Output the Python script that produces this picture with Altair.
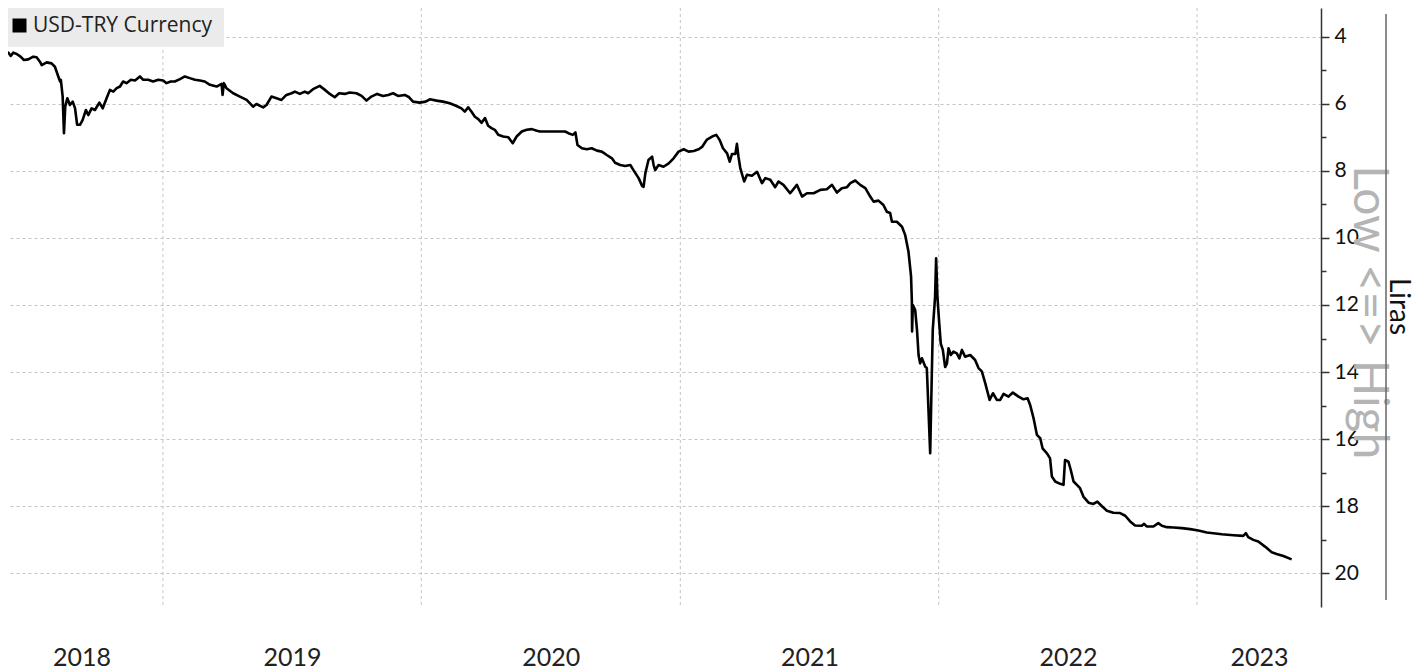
import altair as alt
import pandas as pd

# ---- data (decimal year, USD-TRY level) ----
dec_years = [
    2018.369, 2018.385, 2018.402, 2018.411, 2018.421, 2018.434, 2018.449, 2018.462, 2018.479, 2018.498,
    2018.511, 2018.524, 2018.531, 2018.550, 2018.569, 2018.582, 2018.595, 2018.602, 2018.605, 2018.612,
    2018.617, 2018.622, 2018.630, 2018.640, 2018.651, 2018.660, 2018.668, 2018.679, 2018.689, 2018.702,
    2018.711, 2018.724, 2018.737, 2018.754, 2018.767, 2018.782, 2018.795, 2018.808, 2018.821, 2018.834,
    2018.846, 2018.859, 2018.876, 2018.892, 2018.911, 2018.924, 2018.943, 2018.962, 2018.982, 2019.001,
    2019.014, 2019.030, 2019.046, 2019.066, 2019.085, 2019.104, 2019.124, 2019.143, 2019.162, 2019.182,
    2019.208, 2019.227, 2019.231, 2019.236, 2019.246, 2019.272, 2019.298, 2019.324, 2019.349, 2019.362,
    2019.388, 2019.401, 2019.420, 2019.440, 2019.459, 2019.478, 2019.498, 2019.511, 2019.530, 2019.549,
    2019.562, 2019.581, 2019.607, 2019.627, 2019.646, 2019.665, 2019.682, 2019.704, 2019.723, 2019.749,
    2019.769, 2019.788, 2019.807, 2019.829, 2019.852, 2019.872, 2019.891, 2019.910, 2019.936, 2019.953,
    2019.968, 2019.994, 2020.017, 2020.033, 2020.059, 2020.084, 2020.110, 2020.136, 2020.155, 2020.168,
    2020.181, 2020.194, 2020.207, 2020.220, 2020.233, 2020.246, 2020.258, 2020.271, 2020.284, 2020.297,
    2020.316, 2020.336, 2020.353, 2020.368, 2020.388, 2020.407, 2020.427, 2020.446, 2020.458, 2020.555,
    2020.568, 2020.585, 2020.595, 2020.603, 2020.620, 2020.639, 2020.658, 2020.678, 2020.697, 2020.716,
    2020.736, 2020.748, 2020.768, 2020.787, 2020.807, 2020.819, 2020.839, 2020.852, 2020.858, 2020.865,
    2020.877, 2020.891, 2020.897, 2020.903, 2020.916, 2020.935, 2020.955, 2020.974, 2020.993, 2021.013,
    2021.032, 2021.052, 2021.071, 2021.084, 2021.103, 2021.123, 2021.139, 2021.152, 2021.165, 2021.181,
    2021.191, 2021.200, 2021.213, 2021.219, 2021.225, 2021.232, 2021.247, 2021.258, 2021.277, 2021.297,
    2021.316, 2021.329, 2021.348, 2021.367, 2021.380, 2021.399, 2021.425, 2021.451, 2021.471, 2021.490,
    2021.516, 2021.542, 2021.567, 2021.587, 2021.606, 2021.625, 2021.645, 2021.658, 2021.677, 2021.696,
    2021.716, 2021.735, 2021.748, 2021.767, 2021.786, 2021.799, 2021.812, 2021.819, 2021.838, 2021.858,
    2021.870, 2021.883, 2021.893, 2021.896, 2021.897, 2021.900, 2021.909, 2021.916, 2021.922, 2021.928,
    2021.935, 2021.948, 2021.954, 2021.967, 2021.971, 2021.977, 2021.986, 2021.990, 2021.995, 2022.002,
    2022.008, 2022.016, 2022.025, 2022.032, 2022.038, 2022.047, 2022.057, 2022.070, 2022.080, 2022.090,
    2022.102, 2022.122, 2022.141, 2022.154, 2022.167, 2022.180, 2022.197, 2022.210, 2022.225, 2022.238,
    2022.251, 2022.270, 2022.287, 2022.309, 2022.328, 2022.344, 2022.354, 2022.367, 2022.380, 2022.393,
    2022.402, 2022.419, 2022.431, 2022.438, 2022.451, 2022.470, 2022.483, 2022.489, 2022.502, 2022.511,
    2022.522, 2022.535, 2022.547, 2022.560, 2022.580, 2022.599, 2022.614, 2022.631, 2022.651, 2022.676,
    2022.702, 2022.722, 2022.741, 2022.760, 2022.786, 2022.795, 2022.805, 2022.831, 2022.850, 2022.864,
    2022.883, 2022.909, 2022.941, 2022.973, 2023.005, 2023.038, 2023.063, 2023.096, 2023.141, 2023.179,
    2023.189, 2023.198, 2023.218, 2023.237, 2023.263, 2023.289, 2023.308, 2023.334, 2023.366,
]

usd_try = [
    4.42, 4.55, 4.48, 4.58, 4.48, 4.52, 4.60, 4.70, 4.68, 4.60,
    4.62, 4.75, 4.85, 4.77, 4.80, 4.90, 5.19, 5.34, 5.29, 5.79,
    6.88, 6.09, 5.84, 6.04, 5.94, 6.14, 6.63, 6.63, 6.49, 6.19,
    6.34, 6.14, 6.19, 5.97, 6.14, 5.84, 5.59, 5.64, 5.54, 5.49,
    5.34, 5.39, 5.29, 5.31, 5.19, 5.29, 5.29, 5.34, 5.29, 5.31,
    5.39, 5.34, 5.34, 5.27, 5.19, 5.24, 5.29, 5.31, 5.34, 5.44,
    5.49, 5.41, 5.74, 5.39, 5.54, 5.69, 5.79, 5.89, 6.09, 6.01,
    6.11, 6.04, 5.79, 5.84, 5.89, 5.74, 5.69, 5.64, 5.71, 5.64,
    5.69, 5.57, 5.47, 5.59, 5.71, 5.81, 5.69, 5.71, 5.67, 5.69,
    5.77, 5.91, 5.79, 5.71, 5.77, 5.74, 5.69, 5.77, 5.74, 5.81,
    5.94, 5.97, 5.94, 5.87, 5.91, 5.94, 5.99, 6.07, 6.14, 6.24,
    6.11, 6.24, 6.39, 6.46, 6.57, 6.43, 6.66, 6.73, 6.78, 6.93,
    6.98, 7.00, 7.18, 6.98, 6.83, 6.78, 6.76, 6.81, 6.83, 6.83,
    6.88, 6.93, 6.86, 7.23, 7.33, 7.36, 7.33, 7.40, 7.43, 7.53,
    7.63, 7.76, 7.83, 7.86, 7.83, 7.98, 8.22, 8.45, 8.48, 8.07,
    7.68, 7.58, 7.83, 7.98, 7.83, 7.88, 7.78, 7.63, 7.43, 7.36,
    7.43, 7.41, 7.36, 7.29, 7.07, 6.98, 6.93, 7.08, 7.33, 7.48,
    7.73, 7.50, 7.50, 7.20, 7.58, 7.92, 8.32, 8.12, 8.15, 8.03,
    8.37, 8.22, 8.27, 8.49, 8.32, 8.42, 8.67, 8.42, 8.77, 8.67,
    8.67, 8.57, 8.55, 8.42, 8.65, 8.52, 8.49, 8.37, 8.29, 8.42,
    8.52, 8.77, 8.92, 8.89, 9.02, 9.22, 9.26, 9.52, 9.52, 9.67,
    9.91, 10.41, 11.15, 11.85, 12.79, 12.00, 12.15, 12.74, 13.49, 13.74,
    13.59, 13.84, 13.88, 16.42, 14.93, 12.74, 11.75, 10.61, 11.75, 12.54,
    13.15, 13.34, 13.85, 13.74, 13.29, 13.49, 13.39, 13.44, 13.59, 13.34,
    13.54, 13.49, 13.64, 13.88, 13.98, 14.33, 14.83, 14.63, 14.83, 14.83,
    14.65, 14.73, 14.61, 14.73, 14.81, 14.78, 14.98, 15.37, 15.87, 15.97,
    16.27, 16.42, 16.57, 17.11, 17.26, 17.33, 17.36, 16.62, 16.67, 16.91,
    17.26, 17.36, 17.46, 17.71, 17.89, 17.93, 17.86, 17.99, 18.13, 18.19,
    18.20, 18.28, 18.45, 18.57, 18.58, 18.52, 18.60, 18.60, 18.50, 18.58,
    18.62, 18.63, 18.65, 18.68, 18.72, 18.78, 18.80, 18.83, 18.86, 18.88,
    18.80, 18.92, 19.00, 19.05, 19.20, 19.37, 19.42, 19.48, 19.58,
]

series_name = "USD-TRY Currency"
year_labels = [2018, 2019, 2020, 2021, 2022, 2023]
year_starts = [2019, 2020, 2021, 2022, 2023]
y_ticks = list(range(4, 21))
x_domain_years = [2018.4004, 2023.4797]
y_domain = [3.15, 21.0]
side_note = "Low <=> High"
y_title = "Liras"


def to_ts(t):
    y = int(t)
    s = pd.Timestamp(year=y, month=1, day=1)
    e = pd.Timestamp(year=y + 1, month=1, day=1)
    return s + (e - s) * (t - y)


def iso(ts):
    return ts.strftime("%Y-%m-%dT%H:%M:%SZ")


def ms(ts):
    return int(ts.value // 10**6)


df = pd.DataFrame({
    "date": [iso(to_ts(t)) for t in dec_years],
    "value": usd_try,
    "series": series_name,
})

# year labels centred on the visible part of each year
label_ms = []
for yr in year_labels:
    a = max(dec_years[0], yr)
    b = min(x_domain_years[1], yr + 1)
    label_ms.append(ms(to_ts((a + b) / 2)))

W, H = 1313, 599
FONT = "Lato"

x_scale = alt.Scale(type="utc",
                    domain=[ms(to_ts(x_domain_years[0])), ms(to_ts(x_domain_years[1]))],
                    nice=False)
y_scale = alt.Scale(domain=y_domain, reverse=True, nice=False, zero=False)

even = "datum.value % 2 === 0"

line = alt.Chart(df).mark_line(strokeWidth=2.6, clip=True, strokeJoin="round").encode(
    x=alt.X("date:T", scale=x_scale,
            axis=alt.Axis(values=label_ms, labelExpr="utcFormat(datum.value, '%Y')",
                          ticks=False, domain=False, grid=False, labelPadding=38,
                          labelFontSize=25, labelFont=FONT, labelColor="#222",
                          labelFontWeight="normal", title=None,
                          labelFlush=False, labelOverlap=False)),
    y=alt.Y("value:Q", scale=y_scale,
            axis=alt.Axis(orient="right", values=y_ticks,
                          labelExpr=even + " ? datum.label : ''",
                          labelFontSize=21, labelFont=FONT, labelColor="#111",
                          labelPadding=5, labelBaseline="middle",
                          tickSize={"condition": {"test": even, "value": 8}, "value": 5},
                          tickColor="#333", tickWidth=1.5,
                          domainColor="#333", domainWidth=1.5,
                          grid=True, gridColor="#c4c4c4", gridDash=[3, 3], gridWidth=1,
                          gridOpacity={"condition": {"test": even, "value": 1}, "value": 0},
                          title=y_title, titleFont=FONT, titleFontSize=28,
                          titleFontWeight="normal", titleColor="#111",
                          titleAngle=90, titleX=76, titleY=298,
                          titleAlign="center", titleBaseline="middle")),
    color=alt.Color("series:N",
                    scale=alt.Scale(domain=[series_name], range=["black"]),
                    legend=alt.Legend(title=None, orient="none", legendX=-10, legendY=-4,
                                      padding=11, fillColor="#ebebeb", symbolType="square",
                                      symbolSize=196, symbolFillColor="black",
                                      symbolStrokeColor="black", symbolStrokeWidth=0,
                                      labelFontSize=21, labelFont="Open Sans",
                                      labelColor="#222", labelOffset=3, labelLimit=0)),
)

vgrid = alt.Chart(pd.DataFrame({"date": [iso(to_ts(y)) for y in year_starts]})).mark_rule(
    color="#c4c4c4", strokeDash=[3, 3], strokeWidth=1
).encode(x=alt.X("date:T", scale=x_scale))

anno_df = pd.DataFrame({"t": [side_note]})
note = alt.Chart(anno_df).mark_text(
    angle=90, font=FONT, fontSize=48, color="#b4b4b4", align="center", baseline="middle"
).encode(x=alt.value(W + 47), y=alt.value(H * 0.508), text="t:N")

sep = alt.Chart(anno_df).mark_rule(color="#666", strokeWidth=1.5).encode(
    x=alt.value(W + 65), y=alt.value(6), y2=alt.value(592)
)

chart = alt.layer(vgrid, note, line, sep).properties(
    width=W, height=H,
    autosize=alt.AutoSizeParams(type="none"),
    padding={"left": 0, "top": 0, "right": 91, "bottom": 62},
    background="white",
).configure_view(stroke=None)

chart.save("out.html", embed_options={"renderer": "svg", "actions": False})
